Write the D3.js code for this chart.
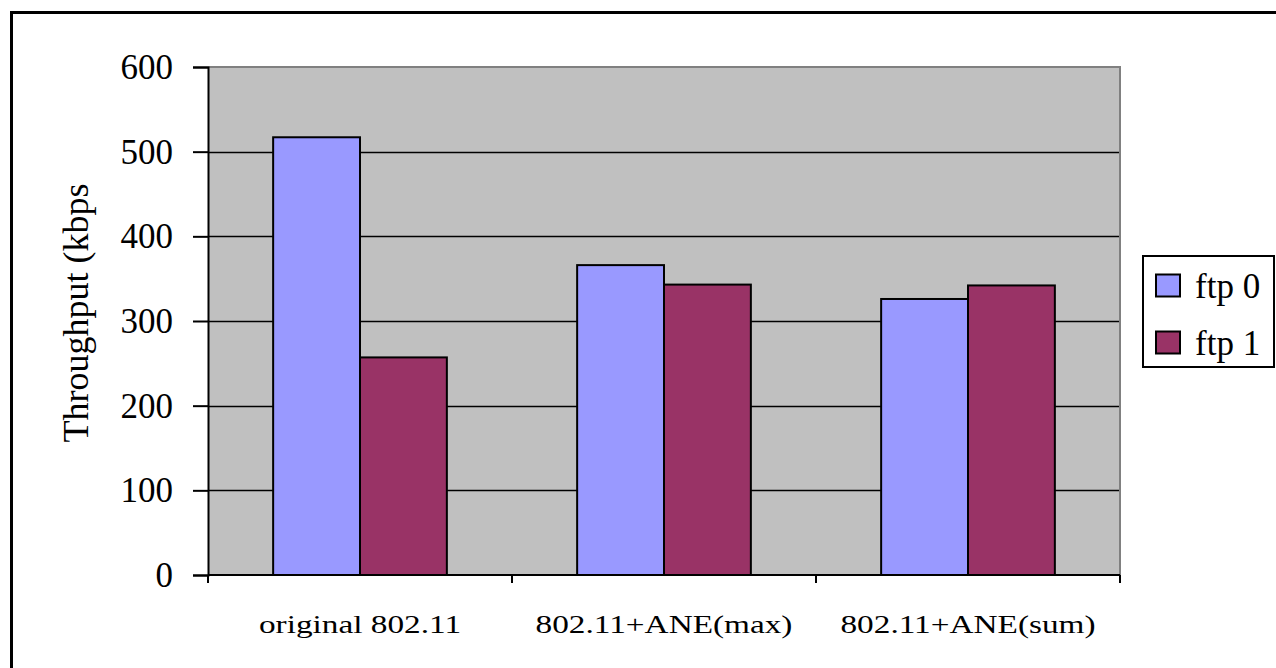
<!DOCTYPE html>
<html><head><meta charset="utf-8">
<script src="https://cdn.jsdelivr.net/npm/d3@7"></script>
<style>html,body{margin:0;padding:0;background:#fff;overflow:hidden}</style>
</head><body>
<svg id="c" width="1276" height="668"></svg>
<script>
const categories = ["original 802.11", "802.11+ANE(max)", "802.11+ANE(sum)"];
const seriesNames = ["ftp 0", "ftp 1"];
const ftp0 = [517, 366, 326];
const ftp1 = [257, 343, 342];
const yTicks = [0, 100, 200, 300, 400, 500, 600];
const colors = ["#9999FF", "#993366"];
const seriesValues = [ftp0, ftp1];

const svg = d3.select("#c");
const font = "'Liberation Serif','Times New Roman',serif";
const L = 208, R = 1120, T = 67, B = 575;

svg.append("rect").attr("x", 11.5).attr("y", 12.5).attr("width", 1300).attr("height", 700)
  .attr("fill", "#fff").attr("stroke", "#000").attr("stroke-width", 3);

const x = d3.scaleBand().domain(categories).range([L, R]).padding(0);
const x1 = d3.scaleBand().domain(seriesNames).range([0, x.bandwidth()]).paddingInner(0).paddingOuter(0.75);
const y = d3.scaleLinear().domain([0, 600]).range([B, T]);

svg.append("rect").attr("x", L).attr("y", T).attr("width", R - L).attr("height", B - T).attr("fill", "#C0C0C0");

// gridlines
svg.append("g").selectAll("line").data(yTicks.filter(d => d > 0 && d < 600)).join("line")
  .attr("x1", L).attr("x2", R).attr("y1", d => Math.round(y(d)) + 0.5).attr("y2", d => Math.round(y(d)) + 0.5)
  .attr("stroke", "#000").attr("stroke-width", 1.3);

// top & right border
svg.append("path").attr("d", `M${L},${T} H${R} V${B}`).attr("fill", "none").attr("stroke", "#808080").attr("stroke-width", 2);

// bars
const rows = categories.map((c, i) => ({ c, vals: seriesNames.map((s, j) => ({ s, v: seriesValues[j][i], j })) }));
svg.append("g").selectAll("g").data(rows).join("g")
  .attr("transform", d => `translate(${x(d.c)},0)`)
  .selectAll("rect").data(d => d.vals).join("rect")
  .attr("x", d => x1(d.s)).attr("width", x1.bandwidth())
  .attr("y", d => y(d.v)).attr("height", d => y(0) - y(d.v))
  .attr("fill", d => colors[d.j]).attr("stroke", "#000").attr("stroke-width", 2);

// y axis
const yAxis = d3.axisLeft(y).tickValues(yTicks).tickSize(15).tickPadding(20).tickFormat(d3.format("d"));
const ya = svg.append("g").attr("transform", `translate(${L},0)`).call(yAxis);
ya.select(".domain").attr("stroke", "#000").attr("stroke-width", 2);
ya.selectAll(".tick line").attr("stroke", "#000").attr("stroke-width", 2);
ya.selectAll(".tick text").attr("font-family", font).attr("font-size", 35).attr("fill", "#000").attr("dy", "0.33em");

// x axis
const xa = svg.append("g").attr("transform", `translate(0,${B})`);
xa.append("line").attr("x1", L).attr("x2", R).attr("y1", 0).attr("y2", 0).attr("stroke", "#000").attr("stroke-width", 2);
const xTickPos = categories.map(c => x(c)).concat([x(categories[categories.length - 1]) + x.bandwidth()]);
xa.selectAll("line.t").data(xTickPos).join("line").attr("class", "t")
  .attr("x1", d => d).attr("x2", d => d).attr("y1", 0).attr("y2", 8).attr("stroke", "#000").attr("stroke-width", 2);
svg.append("g").selectAll("g").data(categories).join("g")
  .attr("transform", d => `translate(${x(d) + x.bandwidth() / 2},633)`)
  .append("text").attr("transform", "scale(1.28,1)").attr("text-anchor", "middle")
  .attr("font-family", font).attr("font-size", 26).attr("fill", "#000").text(d => d);

// y title
svg.append("text").attr("transform", `translate(88,313) rotate(-90)`).attr("text-anchor", "middle")
  .attr("font-family", font).attr("font-size", 36).attr("fill", "#000").text("Throughput (kbps");

// legend
const lg = svg.append("g");
lg.append("rect").attr("x", 1143).attr("y", 256).attr("width", 131).attr("height", 111)
  .attr("fill", "#fff").attr("stroke", "#000").attr("stroke-width", 2);
const items = lg.selectAll("g").data(seriesNames).join("g").attr("transform", (d, i) => `translate(0,${i * 57})`);
items.append("rect").attr("x", 1156).attr("y", 274.5).attr("width", 24).attr("height", 22)
  .attr("fill", (d, i) => colors[i]).attr("stroke", "#000").attr("stroke-width", 2);
items.append("text").attr("x", 1195).attr("y", 298).attr("font-family", font).attr("font-size", 35)
  .attr("fill", "#000").text(d => d);
</script>
</body></html>
